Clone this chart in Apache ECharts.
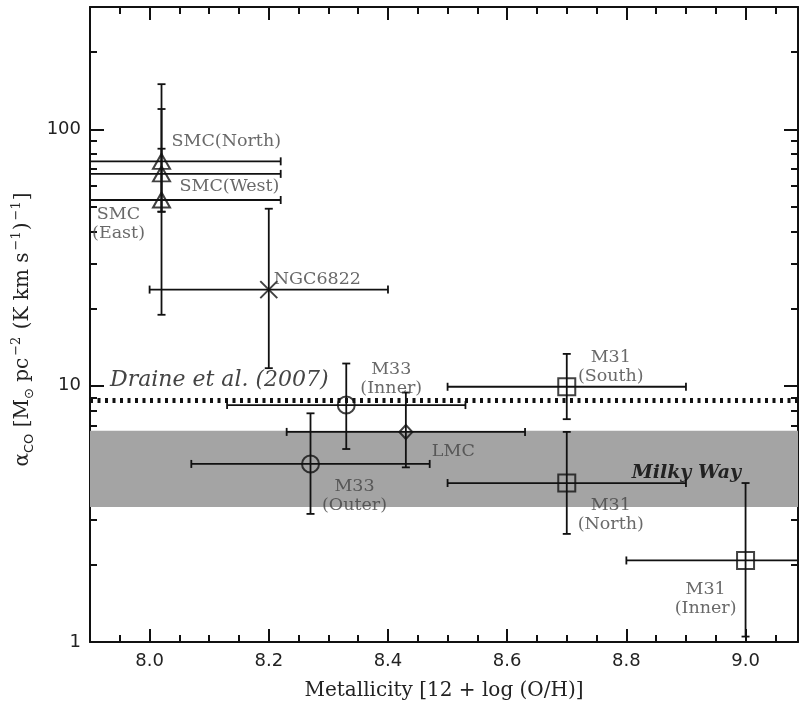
<!DOCTYPE html>
<html><head><meta charset="utf-8">
<script src="https://cdn.jsdelivr.net/npm/echarts@6/dist/echarts.min.js"></script>
<style>html,body{margin:0;padding:0;background:#fff}#c{width:799px;height:706px}</style>
</head><body><div id="c"></div><script>
// ---- data ----
const names = ['SMC(North)','SMC(West)','SMC(East)','NGC6822','M33(Inner)','M33(Outer)','LMC','M31(South)','M31(North)','M31(Inner)'];
const labelTexts = ['SMC(North)','SMC(West)','SMC\n(East)','NGC6822','M33\n(Inner)','M33\n(Outer)','LMC','M31\n(South)','M31\n(North)','M31\n(Inner)'];
const metallicity = [8.02, 8.02, 8.02, 8.20, 8.33, 8.27, 8.43, 8.70, 8.70, 9.00];
const metallicityErr = [0.2, 0.2, 0.2, 0.2, 0.2, 0.2, 0.2, 0.2, 0.2, 0.2];
const alphaCO = [75, 67, 53, 23.7, 8.4, 4.95, 6.6, 9.9, 4.17, 2.08];
const alphaLow = [47.7, 18.9, 47.7, 11.7, 5.66, 3.16, 4.8, 7.4, 2.64, 1.05];
const alphaHigh = [150, 120, 84, 49, 12.2, 7.8, 9.4, 13.3, 6.6, 4.17];
const draineAlpha = 8.8;
const milkyWayRange = [3.36, 6.67];
const xMajorTicks = [8.0, 8.2, 8.4, 8.6, 8.8, 9.0];
const xMinorTicks = [7.95, 8.05, 8.10, 8.15, 8.25, 8.30, 8.35, 8.45, 8.50, 8.55, 8.65, 8.70, 8.75, 8.85, 8.90, 8.95, 9.05];
const yMajorTicks = [1, 10, 100];
const yMinorTicks = [2, 3, 4, 5, 6, 7, 8, 9, 20, 30, 40, 50, 60, 70, 80, 90, 200];

// ---- styles (not data) ----
const markerStyle = {
  'SMC(North)': {symbol:'triangle', size:[17,15]},
  'SMC(West)': {symbol:'triangle', size:[17,15]},
  'SMC(East)': {symbol:'triangle', size:[17,15]},
  'NGC6822': {symbol:'path://M0,0L10,10M10,0L0,10', size:[17,17]},
  'M33(Inner)': {symbol:'circle', size:17},
  'M33(Outer)': {symbol:'circle', size:17},
  'LMC': {symbol:'diamond', size:[13,14]},
  'M31(South)': {symbol:'rect', size:17},
  'M31(North)': {symbol:'rect', size:17},
  'M31(Inner)': {symbol:'rect', size:17}
};
const labelStyle = {
  'SMC(North)': {align:'left', offset:[10,-20]},
  'SMC(West)': {align:'left', offset:[18,13]},
  'SMC(East)': {align:'center', offset:[-43,24]},
  'NGC6822': {align:'left', offset:[5,-10]},
  'M33(Inner)': {align:'center', offset:[45,-26]},
  'M33(Outer)': {align:'center', offset:[44,32]},
  'LMC': {align:'left', offset:[26,20]},
  'M31(South)': {align:'center', offset:[44,-20]},
  'M31(North)': {align:'center', offset:[44,32]},
  'M31(Inner)': {align:'center', offset:[-40,38]}
};

const serif = '"DejaVu Serif", serif';
const sans = '"DejaVu Sans", sans-serif';
const ink = '#111';
const X_MIN = 7.9, X_MAX = 9.088, Y_MIN = 1, Y_MAX = 300;

function xAxisDef(pos, ticks, len, showLine, showLabel) {
  return {
    type:'value', position:pos, min:X_MIN, max:X_MAX, gridIndex:0,
    axisLine:{show:showLine, onZero:false, lineStyle:{color:ink, width:2}},
    axisTick:{show:true, inside:true, length:len, customValues:ticks, lineStyle:{color:ink, width:2}},
    axisLabel:{show:showLabel, customValues:xMajorTicks, formatter:v=>Number(v).toFixed(1),
      fontFamily:sans, fontSize:18, color:'#222', margin:10},
    splitLine:{show:false}
  };
}
function yAxisDef(pos, ticks, len, showLine, showLabel) {
  return {
    type:'log', logBase:10, position:pos, min:Y_MIN, max:Y_MAX, gridIndex:0,
    axisLine:{show:showLine, onZero:false, lineStyle:{color:ink, width:2}},
    axisTick:{show:true, inside:true, length:len, customValues:ticks, lineStyle:{color:ink, width:2}},
    axisLabel:{show:showLabel, customValues:yMajorTicks, formatter:v=>String(Math.round(v)),
      fontFamily:sans, fontSize:18, color:'#222', margin:9},
    splitLine:{show:false}, minorTick:{show:false}
  };
}

const xAxes = [
  xAxisDef('bottom', xMajorTicks, 13, true, true),
  xAxisDef('bottom', xMinorTicks, 7, false, false),
  xAxisDef('top', xMajorTicks, 13, true, false),
  xAxisDef('top', xMinorTicks, 7, false, false)
];
Object.assign(xAxes[0], {
  name:'Metallicity [12 + log (O/H)]', nameLocation:'middle', nameGap:39,
  nameTextStyle:{fontFamily:serif, fontSize:20, color:'#222'}
});
const yAxes = [
  yAxisDef('left', yMajorTicks, 14, true, true),
  yAxisDef('left', yMinorTicks, 7, false, false),
  yAxisDef('right', yMajorTicks, 14, true, false),
  yAxisDef('right', yMinorTicks, 7, false, false)
];
Object.assign(yAxes[0], {
  name:'{a|α}{s|CO}{a| [M}{s|⊙}{a| pc}{p|−2}{a| (K km s}{p|−1}{a|)}{p|−1}{a|]}', nameLocation:'middle', nameGap:54,
  nameTextStyle:{fontFamily:serif, fontSize:20, color:'#222', padding:[0,10,0,0],
    rich:{
      a:{fontFamily:serif, fontSize:20, color:'#222', lineHeight:26},
      s:{fontFamily:sans, fontSize:13, color:'#222', lineHeight:13, verticalAlign:'bottom'},
      p:{fontFamily:serif, fontSize:13, color:'#222', lineHeight:13, verticalAlign:'top', padding:[0,1,0,2]}
    }}
});

const errData = names.map((n,i)=>[metallicity[i], alphaCO[i], metallicityErr[i], alphaLow[i], alphaHigh[i]]);

const pointData = names.map((n,i)=>({
  name:n,
  value:[metallicity[i], alphaCO[i]],
  symbol:markerStyle[n].symbol,
  symbolSize:markerStyle[n].size,
  label:{show:true, formatter:labelTexts[i], position:'inside',
    align:labelStyle[n].align, verticalAlign:'middle', offset:labelStyle[n].offset}
}));

const option = {
  animation:false,
  backgroundColor:'#fff',
  grid:{left:90, right:1, top:7, bottom:63, containLabel:false},
  xAxis:xAxes,
  yAxis:yAxes,
  series:[
    {
      type:'line', data:[], xAxisIndex:0, yAxisIndex:0, z:1, silent:true,
      markArea:{silent:true, itemStyle:{color:'#a4a4a4', opacity:1},
        label:{show:true, position:'insideRight', offset:[-52,4], formatter:'Milky Way',
          fontFamily:serif, fontStyle:'italic', fontWeight:'bold', fontSize:19, color:'#222'},
        data:[[{yAxis:milkyWayRange[0]}, {yAxis:milkyWayRange[1]}]]},
      markLine:{silent:true, symbol:['none','none'],
        lineStyle:{color:ink, width:5, type:[3,4.5]},
        label:{show:true, position:'insideStartTop', distance:[20,9], formatter:'Draine et al. (2007)',
          fontFamily:serif, fontStyle:'italic', fontSize:22, color:'#444'},
        data:[{yAxis:draineAlpha}]}
    },
    {
      type:'custom', xAxisIndex:0, yAxisIndex:0, z:3, clip:true, silent:true,
      data:errData,
      encode:{x:0, y:1},
      renderItem:function(params, api){
        const x = api.value(0), y = api.value(1), xe = api.value(2), ylo = api.value(3), yhi = api.value(4);
        const pL = api.coord([x - xe, y]), pR = api.coord([x + xe, y]);
        const pB = api.coord([x, ylo]), pT = api.coord([x, yhi]);
        const c = 4;
        const st = {stroke:ink, lineWidth:1.8, fill:null};
        const ln = (x1,y1,x2,y2)=>({type:'line', shape:{x1,y1,x2,y2}, style:st});
        return {type:'group', children:[
          ln(pL[0],pL[1],pR[0],pR[1]),
          ln(pL[0],pL[1]-c,pL[0],pL[1]+c),
          ln(pR[0],pR[1]-c,pR[0],pR[1]+c),
          ln(pB[0],pB[1],pT[0],pT[1]),
          ln(pB[0]-c,pB[1],pB[0]+c,pB[1]),
          ln(pT[0]-c,pT[1],pT[0]+c,pT[1])
        ]};
      }
    },
    {
      type:'scatter', xAxisIndex:0, yAxisIndex:0, z:4, silent:true,
      itemStyle:{color:'rgba(0,0,0,0)', borderColor:ink, borderWidth:2},
      label:{fontFamily:serif, fontSize:17.5, color:'#444', lineHeight:19},
      data:pointData
    }
  ]
};
const chart = echarts.init(document.getElementById('c'), null, {renderer:'canvas'});
chart.setOption(option);
</script></body></html>
